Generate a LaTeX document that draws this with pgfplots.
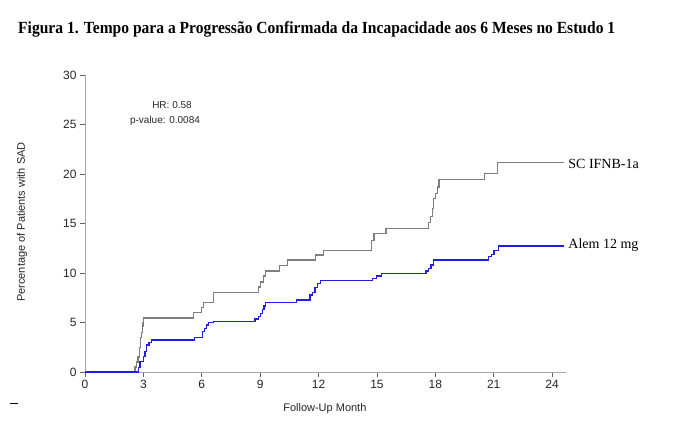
\documentclass[border=0pt]{standalone}
\usepackage{pgfplots}
\pgfplotsset{compat=1.18}
\usepackage{fontspec}
\setmainfont{Liberation Sans}
\newfontfamily\serif{Liberation Serif}
\usepackage{graphicx}
\definecolor{kmgray}{HTML}{7F7F7F}
\definecolor{kmblue}{HTML}{1F1FE6}
\definecolor{axgray}{HTML}{A6A6A6}
\definecolor{txt}{HTML}{262626}
\begin{document}
\begin{tikzpicture}[x=1pt,y=1pt]
\path[use as bounding box, fill=white] (0pt,0pt) rectangle (692pt,425pt);
\node[anchor=base west, inner sep=0pt] at (18pt,391pt) {\resizebox{597pt}{\height}{\fontsize{17}{20}\serif\bfseries Figura 1. Tempo para a Progressão Confirmada da Incapacidade aos 6 Meses no Estudo 1}};
\draw[black, line width=0.8pt] (10pt,22pt) -- (18pt,22pt);
\begin{axis}[
  at={(85pt,53pt)}, anchor=south west,
  scale only axis, width=480.7pt, height=297pt,
  xmin=0, xmax=24.7, ymin=0, ymax=30,
  axis x line*=bottom, axis y line*=left,
  axis line style={axgray, line width=0.9pt},
  xtick={0,3,...,24}, ytick={0,5,...,30},
  tick align=outside, major tick length=5pt,
  tick style={axgray!60!black, line width=0.8pt},
  tick label style={font=\fontsize{12}{14}\selectfont, text=txt},
  /pgf/number format/assume math mode=true,
  xlabel={Follow-Up Month},
  ylabel={Percentage of Patients with SAD},
  label style={font=\fontsize{11}{13}\selectfont, text=txt},
  xlabel style={at={(axis description cs:0.499,-0.125)}, anchor=center},
  ylabel style={at={(axis description cs:-0.131,0.505)}, anchor=center},
  clip=false,
]
\addplot[const plot, kmgray, line width=1.4pt] coordinates {
(0,0) (2.57,0.5) (2.65,1.0) (2.72,1.5) (2.80,2.5) (2.85,3.5) (2.90,4.0) (2.94,4.6) (2.98,5.0) (3.00,5.45)
(5.57,6.0) (6.00,6.5) (6.08,7.0) (6.60,8.0) (8.90,8.6) (9.03,9.1) (9.17,9.7) (9.28,10.2) (9.99,10.75)
(10.40,11.3) (11.85,11.8) (12.25,12.3) (14.73,13.3) (14.85,14.0) (15.47,14.5) (17.64,15.1) (17.76,15.7)
(17.85,16.5) (17.92,17.5) (18.00,18.0) (18.10,18.7) (18.19,19.45) (20.52,20.05) (21.19,21.15) (24.6,21.15)
};
\addplot[const plot, kmblue, line width=1.3pt] coordinates {
(0,0) (2.74,0.47) (2.83,1.04) (3.00,1.55) (3.08,2.05) (3.17,2.73) (3.29,2.96) (3.43,3.23) (5.62,3.5)
(6.03,4.07) (6.13,4.41) (6.25,4.75) (6.34,4.98) (6.60,5.1) (8.74,5.35) (8.90,5.6) (9.03,5.9) (9.11,6.33)
(9.20,6.67) (9.28,7.04) (10.88,7.27) (11.56,7.78) (11.68,8.0) (11.82,8.55) (11.94,8.96) (12.11,9.25)
(14.78,9.46) (14.99,9.7) (15.25,9.97) (17.52,10.2) (17.64,10.47) (17.78,10.8) (17.90,11.3) (20.73,11.65)
(20.90,11.9) (21.02,12.25) (21.24,12.73) (24.6,12.73)
};
\node[font=\fontsize{10}{12}\selectfont, text=txt] at (axis cs:4.47,27.0) {HR: 0.58};
\node[font=\fontsize{10}{12}\selectfont, text=txt] at (axis cs:4.11,25.35) {p-value: 0.0084};
\node[anchor=west, inner sep=0pt, font=\fontsize{14}{16}\serif] at (axis cs:24.83,21.0) {SC IFNB-1a};
\node[anchor=west, inner sep=0pt, font=\fontsize{14}{16}\serif] at (axis cs:24.83,12.8) {Alem 12 mg};
\end{axis}
\end{tikzpicture}
\end{document}
